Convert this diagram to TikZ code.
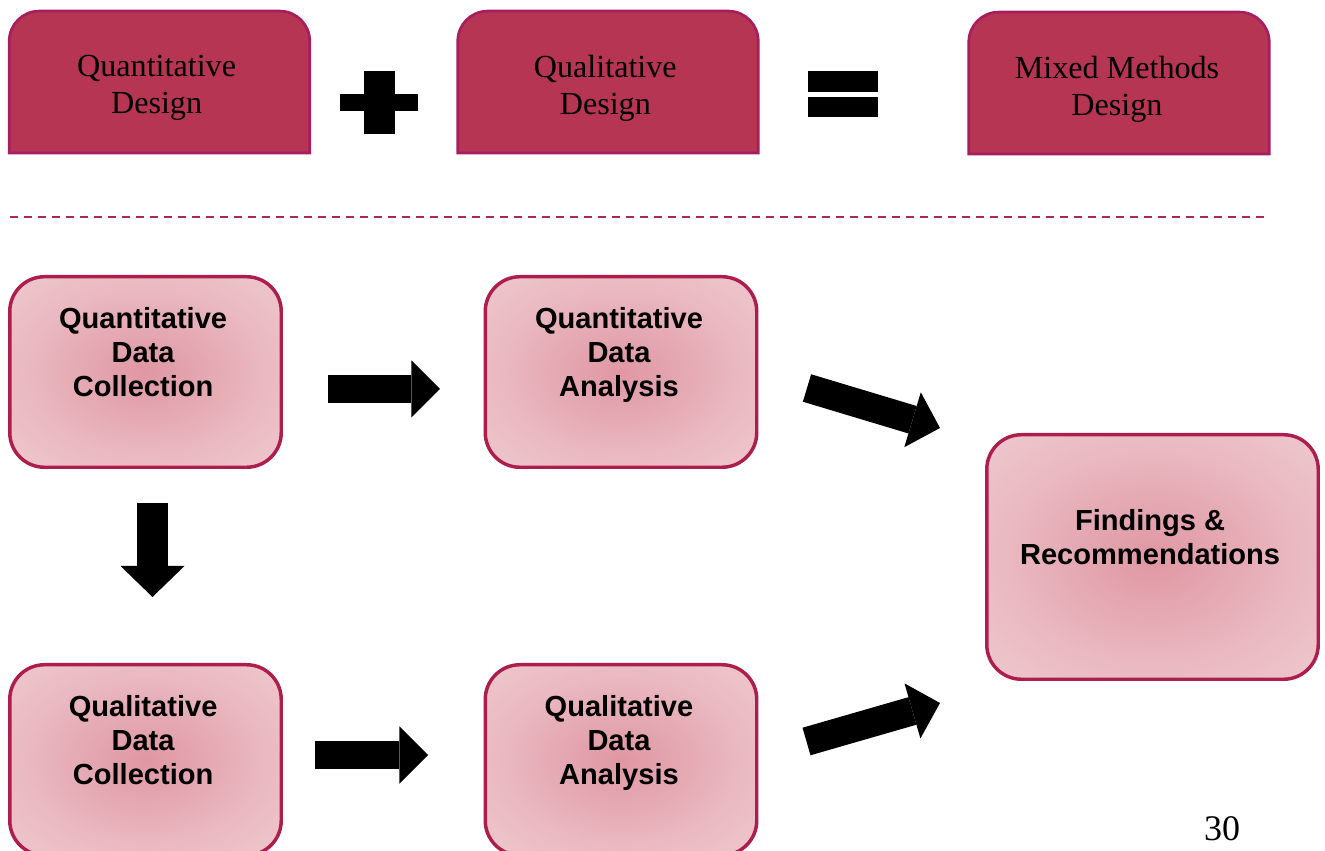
\documentclass[tikz,border=0pt]{standalone}
\usepackage{fontspec}
\setmainfont{Liberation Serif}
\setsansfont{Liberation Sans}
\usetikzlibrary{arrows.meta,backgrounds}

\definecolor{designfill}{HTML}{B63552}
\definecolor{designline}{HTML}{A61E60}
\definecolor{stepline}{HTML}{AE1E4D}
\definecolor{stepinner}{HTML}{DF97A3}
\definecolor{stepouter}{HTML}{F4DADE}
\definecolor{rulecol}{HTML}{A8285C}

% soft pink glow used inside the process boxes
\pgfdeclareradialshading{stepglow}{\pgfpoint{0bp}{0bp}}{%
  color(0bp)=(stepinner);
  color(22bp)=(stepinner!50!stepouter);
  color(45bp)=(stepouter!90!stepinner);
  color(72bp)=(stepouter)}

% frame of a design box: rounded top corners, square bottom
\newcommand{\designframe}[1]{%
  \draw[designframe] (#1.south west)
    -- ([yshift=-22.5pt]#1.north west)
    arc[start angle=180, end angle=90, radius=22.5pt]
    -- ([xshift=-22.5pt]#1.north east)
    arc[start angle=90, end angle=0, radius=22.5pt]
    -- (#1.south east) -- cycle;}

\begin{document}
\begin{tikzpicture}[x=0.75pt, y=0.75pt,
  design/.style={rectangle, minimum width=225pt, minimum height=106pt,
    inner sep=0pt},
  designtext/.style={align=center, inner sep=0pt,
    font=\fontsize{24.1pt}{27.8pt}\selectfont},
  designframe/.style={draw=designline, line width=2pt, fill=designfill},
  stepbox/.style={rectangle, rounded corners=26pt, draw=stepline,
    line width=2.6pt, fill=stepouter, shading=stepglow,
    minimum width=203.6pt, minimum height=142.9pt},
  steptext/.style={align=center, text depth=0pt,
    font=\sffamily\bfseries\fontsize{21.8pt}{25.5pt}\selectfont},
  fatarrow/.style={line width=21.5pt,
    -{Triangle[width=43pt, length=21.5pt, line width=0pt 0 1]}},
  fatarrowbig/.style={line width=23.25pt,
    -{Triangle[width=48pt, length=23.25pt, line width=0pt 0 1]}},
  symbolbar/.style={fill=black}
]
\useasboundingbox (0,0) rectangle (1325,850);
\clip (0,0) rectangle (1325,850);

% ---- design equation ----
\node[design] (quant) at (159.5,768) {};
\node[design] (qual)  at (608,768)   {};
\node[design] (mixed) at (1119,767)  {};
\begin{scope}[on background layer]
  \designframe{quant}
  \designframe{qual}
  \designframe{mixed}
\end{scope}
\node[designtext] (quantt) at ([xshift=-2.2pt,yshift=-4.5pt]quant.center) {Quantitative\\Design};
\node[designtext] (qualt)  at ([xshift=-2pt,yshift=-4.5pt]qual.center)   {Qualitative\\Design};
\node[designtext] (mixedt) at ([xshift=-1.5pt,yshift=-4.5pt]mixed.center) {Mixed Methods\\Design};

% plus sign
\fill[symbolbar] (364,716) rectangle (395,779);
\fill[symbolbar] (340,739) rectangle (418,756);
% equals sign
\fill[symbolbar] (808,758) rectangle (878,779);
\fill[symbolbar] (808,733) rectangle (878,753);

% separator
\draw[rulecol, line width=1.9pt, dash pattern=on 6pt off 4.5pt] (10,633) -- (1264,633);

% ---- process ----
\node[stepbox] (qdc) at (145.5,478) {};
\node[stepbox] (qda) at (621,478) {};
\node[stepbox] (ldc) at (145.5,90) {};
\node[stepbox] (lda) at (621,90) {};
\node[stepbox, minimum width=248.6pt, minimum height=183.4pt] (fr) at (1152.5,293) {};

\node[steptext] (qdct) at ([xshift=-1.8pt,yshift=15pt]qdc.center) {Quantitative\\Data\\Collection};
\node[steptext] (qdat) at ([xshift=-1.5pt,yshift=15pt]qda.center) {Quantitative\\Data\\Analysis};
\node[steptext] (ldct) at ([xshift=-1.8pt,yshift=15pt]ldc.center) {Qualitative\\Data\\Collection};
\node[steptext] (ldat) at ([xshift=-1.5pt,yshift=15pt]lda.center) {Qualitative\\Data\\Analysis};
\node[steptext] (frt)  at ([xshift=-1.8pt,yshift=15pt]fr.center)  {Findings \&\\Recommendations};

% arrow ends
\coordinate (a1s) at (328,461);   \coordinate (a1e) at (440,461);
\coordinate (a2s) at (152.5,347); \coordinate (a2e) at (152.5,253);
\coordinate (a3s) at (315,95);    \coordinate (a3e) at (428,95);
\coordinate (a4s) at (807,462);   \coordinate (a4e) at (940,422);
\coordinate (a5s) at (806.5,108.5); \coordinate (a5e) at (940,147);

\draw[fatarrow] (a1s) -- (a1e);
\draw[fatarrowbig] (a2s) -- (a2e);
\draw[fatarrow] (a3s) -- (a3e);
\draw[fatarrow] (a4s) -- (a4e);
\draw[fatarrow] (a5s) -- (a5e);

% page number
\node[anchor=base, inner sep=0pt, font=\fontsize{27pt}{30pt}\selectfont] (pageno) at (1222,9) {30};
\end{tikzpicture}
\end{document}
